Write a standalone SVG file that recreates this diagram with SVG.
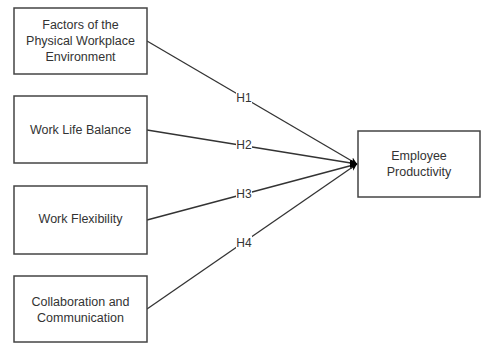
<svg xmlns="http://www.w3.org/2000/svg" width="482" height="343" viewBox="0 0 482 343">
<style>
.box{fill:#fff;stroke:#444;stroke-width:1.5}
.t{font-family:"Liberation Sans",Arial,sans-serif;font-size:12.5px;fill:#333;text-anchor:middle;dominant-baseline:central}
.e{fill:none;stroke:#333;stroke-width:1.3}
.lb{font-family:"Liberation Sans",Arial,sans-serif;font-size:12px;fill:#333;text-anchor:middle;dominant-baseline:central}
</style>
<defs>
<marker id="ah" viewBox="0 0 10 10" refX="10" refY="5" markerWidth="7" markerHeight="7" markerUnits="userSpaceOnUse" orient="auto">
<path d="M0,0 L10,5 L0,10 L3,5 Z" fill="#000"/>
</marker>
</defs>
<rect width="482" height="343" fill="#fff"/>
<g id="connectors">
<line class="e" x1="147" y1="41" x2="357" y2="164" marker-end="url(#ah)"/>
<line class="e" x1="147" y1="130" x2="357" y2="164" marker-end="url(#ah)"/>
<line class="e" x1="147" y1="220" x2="357" y2="164" marker-end="url(#ah)"/>
<line class="e" x1="147" y1="309" x2="357" y2="164" marker-end="url(#ah)"/>
<path d="M350,160 L358,164 L350,168 Z" fill="#000"/>
<rect x="236" y="91" width="16" height="13" fill="#fff"/>
<text class="lb" x="244" y="97.5">H1</text>
<rect x="236" y="139" width="16" height="13" fill="#fff"/>
<text class="lb" x="244" y="145">H2</text>
<rect x="236" y="187" width="16" height="13" fill="#fff"/>
<text class="lb" x="244" y="193.5">H3</text>
<rect x="236" y="236" width="16" height="13" fill="#fff"/>
<text class="lb" x="244" y="243">H4</text>
</g>
<g id="n1">
<rect class="box" x="14" y="8" width="133" height="66"/>
<text class="t" x="80.5" y="25">Factors of the</text>
<text class="t" x="80.5" y="41">Physical Workplace</text>
<text class="t" x="80.5" y="57">Environment</text>
</g>
<g id="n2">
<rect class="box" x="14" y="96" width="133" height="67"/>
<text class="t" x="80.5" y="130">Work Life Balance</text>
</g>
<g id="n3">
<rect class="box" x="14" y="186" width="133" height="68"/>
<text class="t" x="80.5" y="219">Work Flexibility</text>
</g>
<g id="n4">
<rect class="box" x="14" y="276" width="133" height="66"/>
<text class="t" x="80.5" y="302">Collaboration and</text>
<text class="t" x="80.5" y="318">Communication</text>
</g>
<g id="n5">
<rect class="box" x="358" y="131" width="122" height="66"/>
<text class="t" x="419" y="155.5">Employee</text>
<text class="t" x="419" y="172">Productivity</text>
</g>
</svg>
